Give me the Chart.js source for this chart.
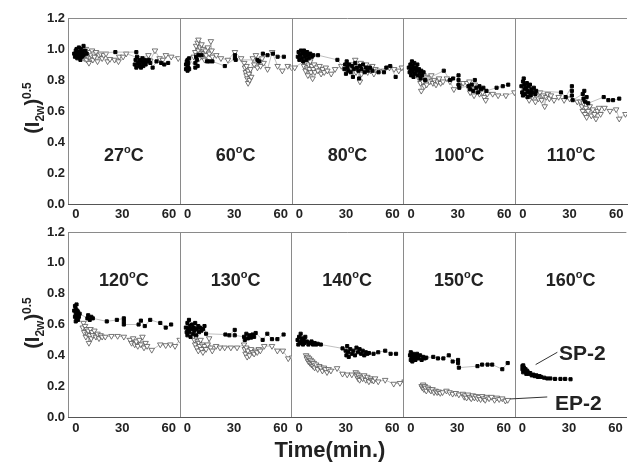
<!DOCTYPE html>
<html>
<head>
<meta charset="utf-8">
<script src="https://cdn.jsdelivr.net/npm/chart.js@4.4.1/dist/chart.umd.min.js"></script>
<style>
  html, body { margin: 0; padding: 0; background: #fff; }
  #fig { position: relative; width: 632px; height: 465px; overflow: hidden; font-family: "Liberation Sans", Arial, sans-serif; color: #222; }
  #fig canvas { position: absolute; left: 0; }
  #top { top: 0; }
  #bottom { top: 214px; }
  .ytitle { position: absolute; left: -33px; width: 120px; height: 26px; line-height: 26px; text-align: center;
            font-weight: bold; font-size: 20px; transform: rotate(-90deg); white-space: nowrap; }
  .ytitle sub, .ytitle sup { font-size: 12px; }
  #xtitle { position: absolute; top: 437px; left: 230px; width: 200px; text-align: center; font-weight: bold; font-size: 22px; }
</style>
</head>
<body>
<div id="fig">
  <canvas id="top" width="632" height="230"></canvas>
  <canvas id="bottom" width="632" height="251"></canvas>
  <div class="ytitle" style="top:95px">(I<sub>2w</sub>)<sup>0.5</sup></div>
  <div class="ytitle" style="top:310px">(I<sub>2w</sub>)<sup>0.5</sup></div>
  <div id="xtitle">Time(min.)</div>
</div>
<script>
// axis ticks
const timeTicks = [0, 30, 60];
const intensityTicks = [0, 0.2, 0.4, 0.6, 0.8, 1.0, 1.2];

// annealing temperatures (degrees C), one panel each
const topTemps = ['27', '60', '80', '100', '110'];
const bottomTemps = ['120', '130', '140', '150', '160'];

// [time (min), (I2w)^0.5] for SP-2 and EP-2 films
const sp27 = [[-1,0.97],[-0.5,0.95],[0,0.99],[0,0.96],[0.5,1.00],[1,0.94],[1,0.98],[1.5,0.96],[2,1.01],[2,0.95],[2.5,0.98],[3,0.93],[3,0.97],[3.5,1.00],[4,0.95],[4.5,0.98],[5,1.02],[5,0.96],[6,0.99],[7,0.97],
  [25.5,0.98],[39,0.98],[38,0.90],[38.5,0.93],[39,0.88],[39.5,0.95],[40,0.91],[40.5,0.89],[41,0.93],[41.5,0.90],[42,0.88],[42.5,0.92],[43,0.94],[43.5,0.89],[44,0.91],[44.5,0.93],[45,0.90],[46,0.92],[47,0.93],[48,0.91],[49.5,0.88],[52,0.92],[55,0.91],[57,0.90],[59.5,0.91]];
const ep27 = [[4,0.97],[5,0.99],[5.5,0.94],[6,0.96],[6.5,1.00],[7,0.93],[7.5,0.97],[8,0.95],[8.5,0.91],[9,0.98],[9.5,0.94],[10,0.96],[10.5,0.99],[11,0.93],[11.5,0.97],[12,0.95],[13,0.98],[14,0.92],[15,0.96],[16,0.97],[17,0.94],[18,0.96],[19.5,0.97],[20.5,0.92],[22,0.935],
  [25,0.93],[27.5,0.92],[28,0.95],[30.5,0.95],[32.5,0.97],[41,0.94],[46.8,0.96],[48,0.925],[51,0.99],[54,0.94],[56,0.93],[58,0.96],[61.5,0.95],[66,0.94]];

const sp60 = [[-1,0.87],[-1,0.90],[-0.5,0.92],[0,0.86],[0,0.89],[0,0.93],[0.5,0.88],[0.5,0.91],[1,0.87],[1,0.94],[5,0.88],[5,0.91],[5.5,0.95],[6,0.93],[6.5,0.89],[7,0.96],
  [9,0.96],[12.5,0.92],[14,0.92],[16,0.92],[24,0.89],[30.5,0.94],[30.5,0.96],[31,0.93],[45,0.93],[46,0.92],[48.5,0.97],[51.5,0.96],[55,0.97],[58,0.95],[62,0.95]];
const ep60 = [[4,0.95],[5,0.98],[5.5,1.02],[6,0.96],[6.5,1.04],[7,0.99],[7,1.06],[7.5,0.94],[8,1.01],[8.5,0.97],[9,1.03],[9.5,0.95],[10,1.00],[10.5,0.97],[11,0.93],[11.5,0.99],[12,0.96],[13,1.01],[14,0.97],[15,1.05],[15.5,0.99],[16,0.95],
  [18.5,0.96],[21.5,0.94],[26,0.93],[30.5,0.98],[34.5,0.94],[36.5,0.91],[37,0.88],[37.5,0.85],[38,0.83],[38,0.89],[38.5,0.81],[39,0.86],[39,0.78],[39.5,0.84],[40,0.80],[40.5,0.87],[41,0.82],
  [42,0.94],[43,0.90],[44,0.96],[45,0.88],[46,0.92],[47,0.89],[48,0.94],[49,0.91],[51.5,0.87],[54.5,0.98],[58,0.89],[61,0.86],[64.5,0.89],[67,0.88]];

const sp80 = [[-1,0.95],[-0.5,0.98],[0,0.93],[0.5,0.96],[1,0.99],[1.5,0.94],[2,0.97],[2.5,0.92],[3,0.99],[3.5,0.95],[4,0.97],[4.5,0.93],[5,0.98],[5.5,0.96],[6,0.94],[7,0.97],[8,0.95],[9,0.96],[12,0.96],[24.5,0.93],
  [29,0.87],[29.5,0.90],[30,0.84],[30.5,0.92],[31,0.88],[31.5,0.86],[32,0.90],[33,0.85],[34,0.89],[34.5,0.82],[35,0.87],[36,0.91],[37,0.88],[38,0.86],[38.5,0.81],[39,0.89],[40,0.87],[41,0.90],[42,0.85],[43,0.88],[44,0.86],[45.5,0.88],
  [47,0.86],[51,0.85],[54.5,0.85],[56,0.88],[58.5,0.89],[62,0.82]];
const ep80 = [[-3,0.88],[2.5,0.92],[3,0.89],[3.5,0.94],[4,0.86],[4.5,0.91],[5,0.88],[5.5,0.83],[6,0.90],[6.5,0.87],[7,0.92],[7.5,0.85],[8,0.89],[8.5,0.81],[9,0.87],[9.5,0.90],[10,0.85],[11,0.88],[12,0.86],[13,0.89],[14,0.84],[15,0.87],[16,0.85],[17,0.88],[18,0.86],[20.5,0.84],[23,0.87],[27,0.89],
  [33,0.86],[34,0.90],[35,0.88],[36,0.93],[36.5,0.85],[37,0.89],[38,0.87],[39,0.79],[39.5,0.91],[40,0.84],[41,0.88],[42,0.86],[43,0.90],[44,0.85],[45,0.88],[46,0.86],[47,0.89],[48,0.84],[49,0.87],[50.5,0.86],[54.5,0.86],[58,0.88],[61,0.87],[64,0.86],[66,0.88]];

const sp100 = [[-1.5,0.88],[-1,0.85],[-0.5,0.90],[0,0.83],[0,0.87],[0.5,0.92],[1,0.85],[1,0.89],[1.5,0.82],[2,0.87],[2,0.91],[2.5,0.84],[3,0.88],[3.5,0.86],[4,0.90],[4.5,0.83],[5,0.87],[5.5,0.85],[6,0.81],[6.5,0.86],[7,0.83],[8,0.85],[9,0.80],
  [21,0.86],[25,0.80],[27,0.81],[30.5,0.83],[30.5,0.80],[30.5,0.77],[31,0.75],[37,0.76],[38,0.74],[39,0.77],[40,0.73],[41,0.80],[42,0.75],[43,0.72],[44,0.76],[45,0.74],[46.5,0.75],[48.5,0.73],[55,0.75],[59,0.76],[62.5,0.77]];
const ep100 = [[4,0.84],[5,0.81],[5.5,0.85],[6,0.78],[6.5,0.73],[7,0.82],[7.5,0.79],[8,0.83],[8.5,0.76],[9,0.80],[9.5,0.82],[10,0.77],[11,0.81],[12,0.79],[13,0.83],[14,0.78],[15,0.80],[16,0.77],[17,0.79],[18,0.81],[19,0.78],[20.5,0.79],[23,0.81],[25,0.79],[27.5,0.74],[31,0.76],[33.5,0.78],
  [36,0.78],[37,0.75],[37.5,0.79],[38,0.72],[39,0.76],[40,0.74],[40.5,0.70],[41,0.77],[42,0.73],[43,0.75],[44,0.71],[45,0.74],[46,0.72],[47,0.69],[48,0.67],[49,0.71],[52.5,0.71],[56,0.70],[61,0.70],[66.5,0.72]];

const sp110 = [[-1,0.76],[-0.5,0.72],[0,0.79],[0,0.70],[0.5,0.81],[1,0.74],[1,0.77],[1.5,0.71],[2,0.75],[2.5,0.78],[3,0.69],[3,0.73],[3.5,0.76],[4,0.72],[4.5,0.77],[5,0.70],[5.5,0.74],[6,0.72],[7,0.75],[8,0.71],[8.5,0.73],
  [24.5,0.72],[27.5,0.69],[31.5,0.76],[31.5,0.73],[31.5,0.70],[32,0.67],[38.5,0.71],[39,0.68],[39.5,0.73],[40,0.66],[41,0.69],[42,0.65],[52,0.69],[55,0.67],[58,0.67],[62,0.68]];
const ep110 = [[1,0.73],[2,0.70],[3,0.74],[4,0.67],[5,0.71],[6,0.69],[7,0.72],[8,0.66],[9,0.70],[10,0.68],[11,0.72],[12,0.67],[13,0.70],[14,0.63],[15,0.69],[16,0.71],[17,0.68],[18,0.70],[20,0.67],[23,0.69],[26.5,0.67],[30,0.68],[35,0.66],
  [37,0.66],[38,0.63],[38.5,0.60],[39,0.65],[40,0.58],[40.5,0.62],[41,0.56],[42,0.60],[43,0.63],[44,0.57],[45,0.61],[46,0.58],[47,0.55],[48,0.60],[49,0.62],[50,0.58],[52.5,0.62],[56,0.60],[60,0.61],[62,0.55],[66,0.58]];

const sp120 = [[-1,0.69],[-0.5,0.65],[-0.5,0.72],[0,0.62],[0,0.67],[0,0.70],[0.5,0.64],[0.5,0.73],[1,0.66],[1,0.69],[1.5,0.63],[1.5,0.68],[2,0.65],[2.5,0.67],[7.5,0.64],[8,0.66],[9,0.63],[10,0.65],[11,0.64],
  [20,0.62],[26.5,0.63],[31,0.64],[31,0.62],[31,0.60],[40.5,0.60],[42,0.625],[44.5,0.59],[48,0.63],[54.5,0.61],[58,0.58],[61.5,0.60]];
const ep120 = [[4.5,0.58],[5,0.61],[5.5,0.55],[6,0.59],[6.5,0.52],[7,0.57],[7.5,0.54],[8,0.56],[8.5,0.48],[9,0.53],[9.5,0.57],[10,0.51],[10.5,0.55],[11,0.53],[12,0.56],[13,0.52],[14,0.54],[15,0.51],[16,0.53],[17,0.52],[19,0.52],[23,0.525],[27,0.525],[31,0.52],
  [35,0.50],[36,0.48],[37,0.51],[38,0.47],[39,0.49],[40,0.46],[41,0.50],[42,0.47],[43,0.52],[44,0.45],[45,0.48],[46,0.46],[49,0.435],[54.5,0.47],[58,0.465],[61,0.47],[64,0.46],[67,0.50]];

const sp130 = [[-1,0.58],[-0.5,0.55],[0,0.61],[0,0.53],[0.5,0.57],[1,0.63],[1,0.55],[1.5,0.59],[2,0.52],[2.5,0.57],[3,0.60],[3.5,0.54],[4,0.58],[4.5,0.56],[5,0.61],[5.5,0.53],[6,0.57],[7,0.59],[7.5,0.55],[8,0.58],[9,0.56],[10,0.57],[11,0.59],[12,0.54],
  [24.5,0.535],[27,0.53],[30.5,0.565],[30.5,0.53],[36.5,0.52],[37,0.50],[38,0.54],[39,0.51],[40,0.53],[41,0.515],[42,0.535],[43,0.52],[44,0.545],[48.5,0.50],[51.5,0.54],[54.5,0.505],[58,0.505],[62,0.535]];
const ep130 = [[4.5,0.50],[5,0.47],[5.5,0.52],[6,0.45],[6.5,0.49],[7,0.43],[7.5,0.48],[8,0.46],[8.5,0.50],[9,0.44],[9.5,0.47],[10,0.42],[11,0.46],[12,0.44],[13,0.47],[14,0.51],[15,0.45],[16,0.43],[18.5,0.46],[21,0.45],[24,0.45],[28,0.45],[32,0.45],
  [36.5,0.47],[37,0.44],[37.5,0.41],[38,0.45],[38.5,0.39],[39,0.43],[40,0.40],[41,0.44],[42,0.42],[43,0.41],[44,0.43],[45,0.42],[46,0.44],[47,0.43],[49.5,0.46],[54.5,0.46],[58,0.43],[61.5,0.43],[65,0.38],[67.5,0.385]];

const sp140 = [[-1,0.50],[-0.5,0.47],[0,0.52],[0.5,0.48],[1,0.54],[1.5,0.49],[2,0.51],[2.5,0.47],[3,0.50],[3.5,0.48],[4,0.52],[5,0.49],[6,0.47],[7,0.48],[8,0.49],[9,0.47],[10,0.48],[11,0.47],[12,0.475],[14,0.47],[28,0.445],
  [30,0.43],[30.5,0.40],[31,0.46],[31.5,0.42],[32,0.39],[33,0.44],[34,0.41],[35,0.43],[36,0.40],[37,0.45],[38,0.42],[39,0.44],[40,0.41],[41,0.43],[42,0.40],[43,0.42],[44,0.41],[45,0.415],[48,0.41],[51,0.42],[55.5,0.43],[59,0.41],[62.5,0.41]];
const ep140 = [[4.5,0.40],[5,0.38],[5.5,0.39],[6,0.36],[6.5,0.38],[7,0.35],[7.5,0.37],[8,0.34],[8.5,0.36],[9,0.33],[9.5,0.35],[10,0.32],[11,0.34],[12,0.31],[13,0.33],[14,0.32],[15,0.30],[16,0.32],[17,0.31],[18,0.29],[19,0.31],[20.5,0.30],[24.5,0.316],[28,0.28],[31,0.275],[34,0.275],
  [36.5,0.29],[37,0.27],[37.5,0.28],[38,0.25],[38.5,0.27],[39,0.24],[40,0.26],[41,0.25],[42,0.27],[43,0.24],[44,0.26],[45,0.23],[46,0.25],[47,0.24],[48,0.235],[49,0.25],[51,0.23],[55.5,0.24],[61,0.215],[65,0.22],[68,0.23]];

const sp150 = [[-0.5,0.40],[0,0.37],[0,0.42],[0.5,0.39],[1,0.36],[1.5,0.41],[2,0.38],[2.5,0.40],[3,0.37],[3.5,0.39],[4,0.41],[5,0.38],[6,0.40],[7,0.37],[8,0.39],[9,0.38],[10,0.385],
  [14.5,0.39],[17.5,0.38],[21,0.38],[24.5,0.40],[27,0.36],[30.5,0.37],[30.5,0.35],[31,0.32],[43,0.33],[46,0.34],[49.5,0.34],[52.5,0.34],[59,0.31],[62.5,0.35]];
const ep150 = [[7,0.20],[7.5,0.19],[8,0.21],[8.5,0.18],[9,0.20],[9.5,0.19],[10,0.17],[11,0.19],[12,0.18],[13,0.17],[14,0.18],[15,0.16],[16,0.17],[17,0.16],[18,0.165],[19,0.155],[20.5,0.16],[23,0.17],[25,0.16],[27,0.15],[29,0.155],[31,0.145],
  [33.5,0.15],[34.5,0.13],[35,0.14],[36,0.125],[37,0.145],[38,0.13],[39,0.12],[40,0.14],[41,0.125],[42,0.135],[43,0.12],[44,0.13],[45,0.115],[46,0.135],[47,0.12],[48,0.11],[49,0.13],[50.5,0.12],[52,0.13],[54,0.11],[55.5,0.125],[57,0.115],[59,0.12],[61,0.105],[62.5,0.11]];

const sp160 = [[0,0.33],[0,0.31],[0.5,0.335],[0.5,0.29],[1,0.32],[1.5,0.30],[2,0.31],[2.5,0.28],[3,0.30],[3.5,0.29],[4,0.28],[5,0.285],[6,0.27],[7,0.275],[8,0.265],[9,0.27],[10,0.26],[11,0.265],[12,0.26],[14,0.255],[16,0.25],[18,0.25],[21,0.247],[24.5,0.247],[27.5,0.247],[31,0.245]];
const ep160 = [];

const FONT = '"Liberation Sans", Arial, sans-serif';
const toPoints = pairs => pairs.map(([x, y]) => ({ x, y }));

// gray frame: top edge and the dividers between panels, plus the temperature captions
const panelFrame = {
  id: 'panelFrame',
  beforeDatasetsDraw(chart) {
    const { ctx, chartArea } = chart;
    ctx.save();
    ctx.strokeStyle = '#8a8a8a';
    ctx.lineWidth = 1;
    ctx.beginPath();
    ctx.moveTo(chartArea.left, chartArea.top + 0.5);
    ctx.lineTo(chartArea.right, chartArea.top + 0.5);
    for (let i = 0; i < 4; i++) {
      const x = Math.round(chart.scales['x' + i].right) + 0.5;
      ctx.moveTo(x, chartArea.top);
      ctx.lineTo(x, chartArea.bottom);
    }
    ctx.stroke();
    ctx.restore();
  },
  afterDatasetsDraw(chart, args, opts) {
    const { ctx } = chart;
    const cy = chart.scales.y.getPixelForValue(opts.labelAt);
    ctx.save();
    ctx.fillStyle = '#222';
    ctx.textBaseline = 'alphabetic';
    opts.temps.forEach((t, i) => {
      const sc = chart.scales['x' + i];
      const cx = (sc.left + sc.right) / 2;
      const big = 'bold 18px ' + FONT, small = 'bold 11px ' + FONT;
      ctx.font = big;
      const wNum = ctx.measureText(t).width, wC = ctx.measureText('C').width;
      ctx.font = small;
      const wO = ctx.measureText('o').width;
      let x = cx - (wNum + wO + wC) / 2;
      const base = cy + 6.5;
      ctx.font = big; ctx.fillText(t, x, base); x += wNum;
      ctx.font = small; ctx.fillText('o', x, base - 8); x += wO;
      ctx.font = big; ctx.fillText('C', x, base);
    });
    ctx.restore();
  }
};

// SP-2 / EP-2 callouts in the last panels
const callouts = {
  id: 'callouts',
  afterDatasetsDraw(chart) {
    const { ctx } = chart;
    const y = chart.scales.y, x150 = chart.scales.x3, x160 = chart.scales.x4;
    ctx.save();
    ctx.strokeStyle = '#333';
    ctx.lineWidth = 1;
    ctx.beginPath();
    ctx.moveTo(x160.getPixelForValue(8.5), y.getPixelForValue(0.34));
    ctx.lineTo(x160.getPixelForValue(22.5), y.getPixelForValue(0.42));
    ctx.moveTo(x150.getPixelForValue(64), y.getPixelForValue(0.117));
    ctx.lineTo(x160.getPixelForValue(16), y.getPixelForValue(0.13));
    ctx.stroke();
    ctx.fillStyle = '#222';
    ctx.font = 'bold 21px ' + FONT;
    ctx.textBaseline = 'middle';
    ctx.fillText('SP-2', x160.getPixelForValue(23.5), y.getPixelForValue(0.405));
    ctx.fillText('EP-2', x160.getPixelForValue(21), y.getPixelForValue(0.085));
    ctx.restore();
  }
};

function makeRow(canvasId, temps, spSets, epSets, o) {
  const datasets = [];
  spSets.forEach((pairs, i) => datasets.push({
    label: 'SP-2', data: toPoints(pairs), xAxisID: 'x' + i, yAxisID: 'y',
    showLine: true, borderColor: '#b0b0b0', borderWidth: 0.8,
    pointStyle: 'rect', pointRadius: 2.2, pointBackgroundColor: '#000', pointBorderColor: '#000', pointBorderWidth: 1
  }));
  epSets.forEach((pairs, i) => datasets.push({
    label: 'EP-2', data: toPoints(pairs), xAxisID: 'x' + i, yAxisID: 'y',
    showLine: true, borderColor: '#b0b0b0', borderWidth: 0.8,
    pointStyle: 'triangle', rotation: 180, pointRadius: 3.2, pointBackgroundColor: '#fff', pointBorderColor: '#555', pointBorderWidth: 0.8
  }));

  const tickFont = { family: FONT, weight: 'bold', size: 13 };
  const scales = {
    y: {
      type: 'linear', position: 'left', min: 0, max: 1.2,
      afterBuildTicks: s => { s.ticks = intensityTicks.map(v => ({ value: v })); },
      afterFit: s => { s.width = 68; },
      grid: { display: false, drawTicks: false },
      border: { display: true, color: '#8a8a8a' },
      ticks: { padding: 3, color: '#222', font: tickFont, callback: v => Number(v).toFixed(1) }
    }
  };
  temps.forEach((t, i) => {
    scales['x' + i] = {
      type: 'linear', position: 'bottom', stack: 'row', stackWeight: 1, min: -5, max: 67,
      afterBuildTicks: s => { s.ticks = timeTicks.map(v => ({ value: v })); },
      afterFit: s => { s.height = o.xHeight; },
      grid: { display: false, drawTicks: false },
      border: { display: true, color: '#555' },
      ticks: { padding: o.tickPad, color: '#222', font: tickFont, maxRotation: 0, autoSkip: false }
    };
  });

  return new Chart(document.getElementById(canvasId), {
    type: 'scatter',
    data: { datasets },
    options: {
      responsive: false,
      animation: false,
      layout: { padding: { top: 18, left: 0, right: 0, bottom: o.padBottom } },
      scales,
      plugins: {
        legend: { display: false },
        tooltip: { enabled: false },
        panelFrame: { temps, labelAt: o.labelAt }
      }
    },
    plugins: o.extra ? [panelFrame, o.extra] : [panelFrame]
  });
}

makeRow('top', topTemps, [sp27, sp60, sp80, sp100, sp110], [ep27, ep60, ep80, ep100, ep110],
  { xHeight: 26, padBottom: 0, tickPad: 3, labelAt: 0.32 });
makeRow('bottom', bottomTemps, [sp120, sp130, sp140, sp150, sp160], [ep120, ep130, ep140, ep150, ep160],
  { xHeight: 20, padBottom: 28, tickPad: 4, labelAt: 0.89, extra: callouts });
</script>
</body>
</html>
